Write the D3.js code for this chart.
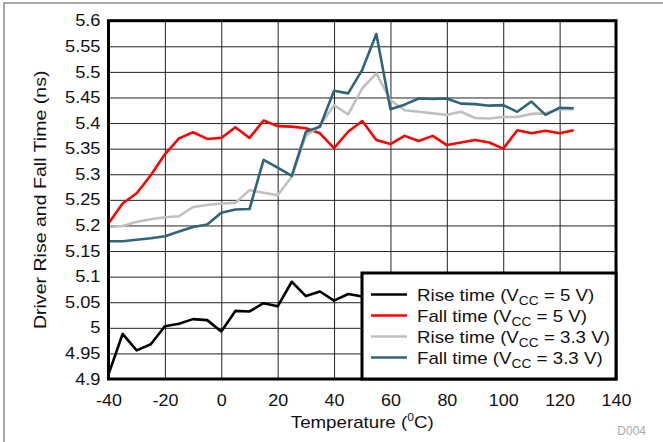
<!DOCTYPE html>
<html>
<head>
<meta charset="utf-8">
<script src="https://cdn.jsdelivr.net/npm/d3@7"></script>
<style>
  body { margin: 0; background: #fff; }
  svg { font-family: "Liberation Sans", Arial, sans-serif; }
</style>
</head>
<body>
<svg id="chart" width="663" height="442"></svg>
<script>
// temperature points (deg C)
var temps = [-40, -35, -30, -25, -20, -15, -10, -5, 0, 5, 10, 15, 20, 25, 30, 35, 40,
             45, 50, 55, 60, 65, 70, 75, 80, 85, 90, 95, 100, 105, 110, 115, 120, 125];

var riseTime5V = [4.909, 4.988, 4.956, 4.968, 5.003, 5.008, 5.017, 5.015, 4.993, 5.033, 5.032, 5.048,
                  5.042, 5.090, 5.062, 5.071, 5.053, 5.066, 5.061, 5.064, 5.062, 5.066, 5.063, 5.064,
                  5.062, 5.065, 5.063, 5.066, 5.064, 5.063, 5.065, 5.064, 5.066, 5.065];
var fallTime5V = [5.204, 5.243, 5.263, 5.298, 5.339, 5.370, 5.382, 5.369, 5.371, 5.392, 5.371, 5.405,
                  5.394, 5.393, 5.390, 5.380, 5.351, 5.383, 5.404, 5.367, 5.359, 5.375, 5.365, 5.375,
                  5.357, 5.362, 5.367, 5.362, 5.350, 5.386, 5.380, 5.385, 5.380, 5.386];
var riseTime33V = [5.197, 5.199, 5.207, 5.212, 5.216, 5.218, 5.236, 5.240, 5.243, 5.244, 5.269, 5.264,
                   5.259, 5.295, 5.375, 5.395, 5.435, 5.417, 5.468, 5.497, 5.445, 5.425, 5.422, 5.419,
                   5.416, 5.422, 5.410, 5.409, 5.412, 5.412, 5.418, 5.419, 5.427, 5.427];
var fallTime33V = [5.169, 5.169, 5.172, 5.175, 5.179, 5.188, 5.197, 5.202, 5.225, 5.231, 5.232, 5.328,
                   5.313, 5.297, 5.383, 5.393, 5.463, 5.458, 5.504, 5.574, 5.427, 5.436, 5.448, 5.447,
                   5.448, 5.438, 5.437, 5.434, 5.435, 5.422, 5.442, 5.416, 5.430, 5.429];

var xTicks = [-40, -20, 0, 20, 40, 60, 80, 100, 120, 140];
var yTicks = [4.9, 4.95, 5, 5.05, 5.1, 5.15, 5.2, 5.25, 5.3, 5.35, 5.4, 5.45, 5.5, 5.55, 5.6];

var seriesNames = ["Rise time", "Fall time", "Rise time", "Fall time"];
var seriesVcc = ["5", "5", "3.3", "3.3"];
var seriesColors = ["#000000", "#ff0000", "#c0c0c0", "#2f6479"];
var seriesValues = [riseTime5V, fallTime5V, riseTime33V, fallTime33V];

var svg = d3.select("#chart");
var plotLeft = 108.5, plotRight = 616, plotTop = 20.7, plotBottom = 379;

var x = d3.scaleLinear().domain([-40, 140]).range([plotLeft, plotRight]);
var y = d3.scaleLinear().domain([4.9, 5.6]).range([plotBottom, plotTop]);

// the original lettering is a bit wider than Arial, so widen the glyphs
function widen(sel, f) {
    sel.each(function() {
        var len = this.getComputedTextLength();
        d3.select(this)
            .attr("textLength", len * f)
            .attr("lengthAdjust", "spacingAndGlyphs");
    });
}

// outer frame (only left and top show)
svg.append("path")
    .attr("d", "M4,442V3H663")
    .attr("fill", "none")
    .attr("stroke", "#8c8c8c")
    .attr("stroke-width", 1.5);

// grid + tick labels
var gx = svg.append("g")
    .attr("transform", "translate(0," + plotBottom + ")")
    .call(d3.axisBottom(x).tickValues(xTicks).tickSize(-(plotBottom - plotTop)).tickFormat(function(d) { return String(d); }));
gx.attr("font-family", null);
gx.select(".domain").remove();
gx.selectAll("line").attr("stroke", "#222").attr("stroke-width", 1);
gx.selectAll("text")
    .attr("fill", "#111")
    .attr("font-size", "16px")
    .attr("y", 16)
    .call(widen, 1.12);

var gy = svg.append("g")
    .attr("transform", "translate(" + plotLeft + ",0)")
    .call(d3.axisLeft(y).tickValues(yTicks).tickSize(-(plotRight - plotLeft)).tickFormat(function(d) { return String(+d.toFixed(2)); }));
gy.attr("font-family", null);
gy.select(".domain").remove();
gy.selectAll("line").attr("stroke", "#222").attr("stroke-width", 1);
gy.selectAll("text")
    .attr("fill", "#111")
    .attr("font-size", "16px")
    .attr("x", -8)
    .call(widen, 1.14);

// data lines
var line = d3.line()
    .x(function(d, i) { return x(temps[i]); })
    .y(function(d) { return y(d); });

seriesValues.forEach(function(vals, k) {
    svg.append("path")
        .datum(vals)
        .attr("d", line)
        .attr("fill", "none")
        .attr("stroke", seriesColors[k])
        .attr("stroke-width", 2.6)
        .attr("stroke-linejoin", "round");
});

// plot border
svg.append("rect")
    .attr("x", plotLeft)
    .attr("y", plotTop)
    .attr("width", plotRight - plotLeft)
    .attr("height", plotBottom - plotTop)
    .attr("fill", "none")
    .attr("stroke", "#000")
    .attr("stroke-width", 3);

// legend
var legend = svg.append("g");
legend.append("rect")
    .attr("x", 362)
    .attr("y", 273)
    .attr("width", plotRight - 362)
    .attr("height", plotBottom - 273)
    .attr("fill", "#fff")
    .attr("stroke", "#000")
    .attr("stroke-width", 3);

seriesNames.forEach(function(name, k) {
    var ly = 294.5 + k * 21;
    legend.append("line")
        .attr("x1", 371)
        .attr("x2", 407)
        .attr("y1", ly)
        .attr("y2", ly)
        .attr("stroke", seriesColors[k])
        .attr("stroke-width", 2.6);
    var t = legend.append("text")
        .attr("x", 417)
        .attr("y", ly + 6)
        .attr("font-size", "17px")
        .attr("fill", "#111");
    t.append("tspan").text(name + " (V");
    t.append("tspan").attr("font-size", "12.5px").attr("dy", 4).text("CC");
    t.append("tspan").attr("dy", -4).text(" = " + seriesVcc[k] + " V)");
    t.call(widen, 1.1);
});

// axis titles
var xt = svg.append("text")
    .attr("x", (plotLeft + plotRight) / 2)
    .attr("y", 428)
    .attr("text-anchor", "middle")
    .attr("font-size", "17px")
    .attr("fill", "#111");
xt.append("tspan").text("Temperature (");
xt.append("tspan").attr("font-size", "11px").attr("dy", -7).text("0");
xt.append("tspan").attr("dy", 7).text("C)");
xt.call(widen, 1.1);

svg.append("text")
    .attr("transform", "translate(46," + ((plotTop + plotBottom) / 2) + ")rotate(-90)")
    .attr("text-anchor", "middle")
    .attr("font-size", "17px")
    .attr("fill", "#111")
    .text("Driver Rise and Fall Time (ns)")
    .call(widen, 1.15);

svg.append("text")
    .attr("x", 646)
    .attr("y", 435)
    .attr("text-anchor", "end")
    .attr("font-size", "12px")
    .attr("fill", "#a8a8a8")
    .text("D004");
</script>
</body>
</html>
